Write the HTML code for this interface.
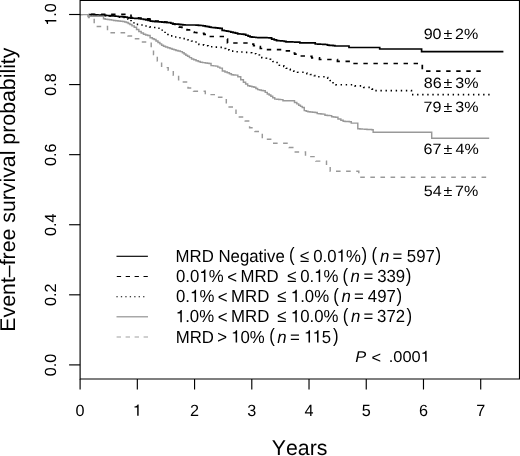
<!DOCTYPE html>
<html><head><meta charset="utf-8"><style>
html,body{margin:0;padding:0;background:#fff;}
body{width:520px;height:456px;overflow:hidden;}
svg{display:block;font-family:"Liberation Sans",sans-serif;font-kerning:none;filter:grayscale(100%);}
text{font-kerning:none;text-rendering:geometricPrecision;}
</style></head><body>
<svg width="520" height="456" viewBox="0 0 520 456">
<rect x="0" y="0" width="520" height="456" fill="#fff"/>
<g fill="none" stroke-linecap="butt" stroke-linejoin="miter">
<path d="M88.50 14.50 H89.54 V14.60 H91.61 V14.70 H93.68 V14.80 H95.75 V14.90 H97.82 V15.00 H99.89 V15.10 H101.96 V15.20 H103.00 H104.16 V15.36 H106.48 V15.52 H108.80 V15.68 H111.12 V15.84 H113.44 V16.00 H114.60 H115.75 V16.24 H118.05 V16.48 H120.35 V16.72 H122.65 V16.96 H124.95 V17.20 H126.10 H127.07 V17.50 H129.00 V17.80 H130.93 V18.10 H131.90 H132.91 V18.23 H134.94 V18.35 H136.96 V18.48 H138.99 V18.60 H140.00 H141.15 V19.00 H143.45 V19.40 H145.75 V19.80 H146.90 H148.05 V20.50 H150.35 V21.20 H151.50 H152.65 V21.38 H154.95 V21.56 H157.25 V21.74 H159.55 V21.92 H161.85 V22.10 H163.00 H164.17 V22.30 H166.50 V22.50 H168.83 V22.70 H170.00 H170.85 V23.25 H172.55 V23.80 H173.40 H174.45 V24.00 H176.55 V24.20 H178.65 V24.40 H180.75 V24.60 H182.85 V24.80 H184.95 V25.00 H186.00 H195.00 H196.15 V25.17 H198.45 V25.33 H200.75 V25.50 H201.90 H203.05 V25.90 H205.35 V26.30 H206.50 H207.47 V26.70 H209.40 V27.10 H211.33 V27.50 H212.30 H213.39 V27.70 H215.56 V27.90 H217.74 V28.10 H219.91 V28.30 H221.00 H222.15 V30.40 H223.30 H224.35 V30.77 H226.45 V31.13 H228.55 V31.50 H229.60 H230.75 V32.08 H233.05 V32.65 H235.35 V33.22 H237.65 V33.80 H238.80 H239.77 V34.00 H241.70 V34.20 H243.63 V34.40 H244.60 H245.75 V35.25 H248.05 V36.10 H249.20 H250.10 V36.80 H251.00 H251.98 V37.03 H253.95 V37.27 H255.92 V37.50 H256.90 H258.01 V37.55 H260.22 V37.60 H262.44 V37.65 H264.66 V37.70 H266.88 V37.75 H269.09 V37.80 H270.20 H271.65 V39.20 H273.10 H274.25 V39.90 H276.55 V40.60 H277.70 H278.65 V40.73 H280.55 V40.87 H282.45 V41.00 H283.40 H284.27 V41.40 H286.02 V41.80 H286.90 H288.05 V41.86 H290.35 V41.92 H292.65 V41.98 H294.95 V42.04 H297.25 V42.10 H298.40 H299.85 V42.90 H301.30 H313.80 H315.25 V44.00 H316.70 H317.93 V44.12 H320.38 V44.25 H322.82 V44.38 H325.27 V44.50 H326.50 H327.40 V45.20 H328.30 H329.25 V45.33 H331.15 V45.47 H333.05 V45.60 H334.00 H334.90 V46.00 H335.80 H349.00 H349.00 V47.50 H379.70 H379.70 V49.00 H421.60 H421.60 V51.70 H503.40" stroke="#000" stroke-width="1.7"/>
<path d="M88.50 14.40 H131.00 H131.00 V17.50 H132.07 V17.66 H134.21 V17.81 H136.36 V17.97 H138.50 V18.13 H140.64 V18.29 H142.79 V18.44 H144.93 V18.60 H146.00 H147.00 V18.90 H149.00 V19.20 H151.00 V19.50 H152.00 H153.50 V21.00 H155.00 H156.07 V21.21 H158.21 V21.43 H160.36 V21.64 H162.50 V21.86 H164.64 V22.07 H166.79 V22.29 H168.93 V22.50 H170.00 H171.00 V23.25 H173.00 V24.00 H174.00 H175.00 V25.35 H177.00 V26.70 H178.00 H179.25 V27.10 H181.75 V27.50 H183.00 H184.50 V29.60 H186.00 H187.00 V29.80 H189.00 V30.00 H190.00 H191.50 V32.20 H193.00 H194.19 V32.48 H196.56 V32.75 H198.94 V33.02 H201.31 V33.30 H202.50 H203.95 V34.40 H205.40 H206.70 V36.50 H208.00 H223.00 H224.12 V37.75 H226.38 V39.00 H227.50 H227.50 V43.00 H251.50 H252.05 V44.20 H252.60 H253.60 V45.60 H254.60 H255.75 V46.15 H258.05 V46.70 H259.20 H260.35 V48.50 H261.50 H262.25 V49.60 H263.00 H280.60 H281.80 V50.80 H283.00 H290.00 H290.82 V51.90 H292.48 V53.00 H293.30 H294.70 V54.20 H296.10 H297.08 V55.10 H299.02 V56.00 H300.00 H305.00 H306.35 V56.15 H309.05 V56.30 H310.40 H311.85 V57.80 H313.30 H319.00 H319.50 V59.50 H320.00 H336.90 H337.45 V61.30 H338.00 H351.00 H351.75 V63.50 H352.50 H422.30 H422.30 V71.10 H481.30" stroke="#000" stroke-width="1.7" stroke-dasharray="4.4 5.645" stroke-dashoffset="7.5"/>
<path d="M88.50 14.80 H89.65 V14.88 H91.95 V14.96 H94.25 V15.04 H96.55 V15.12 H98.85 V15.20 H100.00 H101.07 V15.36 H103.21 V15.51 H105.36 V15.67 H107.50 V15.83 H109.64 V15.99 H111.79 V16.14 H113.93 V16.30 H115.00 H116.00 V16.70 H118.00 V17.10 H120.00 V17.50 H121.00 H126.50 H128.05 V19.20 H129.60 H131.05 V21.50 H132.50 H133.95 V24.40 H135.40 H140.00 H141.00 V24.95 H143.00 V25.50 H144.00 H145.18 V26.00 H147.52 V26.50 H148.70 H149.70 V26.90 H151.70 V27.30 H152.70 H153.85 V27.45 H156.15 V27.60 H157.30 H158.18 V28.30 H159.93 V29.00 H160.80 H162.20 V31.30 H163.60 H165.05 V33.60 H166.50 H167.95 V35.30 H169.40 H170.40 V35.90 H172.40 V36.50 H173.40 H174.43 V36.95 H176.47 V37.40 H177.50 H178.65 V37.80 H180.95 V38.20 H182.10 H183.25 V38.65 H185.55 V39.10 H186.70 H187.70 V39.80 H189.70 V40.50 H190.70 H191.57 V41.00 H193.32 V41.50 H194.20 H195.07 V42.05 H196.82 V42.60 H197.70 H198.95 V44.50 H200.20 H201.35 V44.80 H203.65 V45.10 H204.80 H205.95 V45.70 H208.25 V46.30 H209.40 H210.55 V46.70 H212.85 V47.10 H214.00 H218.70 H219.82 V47.35 H222.07 V47.60 H223.20 H224.02 V48.45 H225.68 V49.30 H226.50 H227.35 V49.90 H229.05 V50.50 H229.90 H231.10 V51.10 H233.50 V51.70 H234.70 H239.50 H240.55 V52.05 H242.65 V52.40 H243.70 H248.50 H249.55 V52.80 H251.65 V53.20 H252.70 H253.72 V53.70 H255.78 V54.20 H256.80 H257.68 V55.00 H259.43 V55.80 H260.30 H261.80 V57.70 H263.30 H264.35 V58.20 H266.45 V58.70 H267.50 H268.50 V59.25 H270.50 V59.80 H271.50 H272.95 V61.50 H274.40 H275.27 V62.55 H277.02 V63.60 H277.90 H279.35 V65.30 H280.80 H281.80 V65.90 H283.80 V66.50 H284.80 H286.25 V68.20 H287.70 H288.55 V69.35 H290.25 V70.50 H291.10 H291.98 V70.90 H293.73 V71.30 H294.60 H295.60 V71.80 H297.60 V72.30 H298.60 H303.80 H304.82 V72.95 H306.88 V73.60 H307.90 H308.75 V74.05 H310.45 V74.50 H311.30 H312.32 V75.05 H314.38 V75.60 H315.40 H316.25 V76.15 H317.95 V76.70 H318.80 H325.10 H325.98 V77.45 H327.73 V78.20 H328.60 H330.15 V80.50 H331.70 H333.05 V82.80 H334.40 H335.75 V84.70 H337.10 H352.10 H353.08 V85.30 H355.02 V85.90 H356.00 H361.10 H361.98 V86.65 H363.73 V87.40 H364.60 H369.40 H370.27 V88.25 H372.02 V89.10 H372.90 H373.85 V90.60 H374.80 H410.50 H411.45 V94.60 H412.40 H489.60" stroke="#000" stroke-width="1.6" stroke-dasharray="1.4 3.68" stroke-dashoffset="3.1"/>
<path d="M80.00 14.60 H88.00 H88.00 V16.30 H103.00 H103.50 V18.70 H104.00 H105.25 V19.20 H106.50 H107.51 V19.50 H109.54 V19.80 H111.56 V20.10 H113.59 V20.40 H114.60 H115.75 V20.67 H118.05 V20.95 H120.35 V21.23 H122.65 V21.50 H123.80 H124.67 V22.00 H126.42 V22.50 H127.30 H128.18 V23.45 H129.93 V24.40 H130.80 H131.95 V25.85 H134.25 V27.30 H135.40 H136.55 V29.40 H138.85 V31.50 H140.00 H141.15 V32.90 H143.45 V34.30 H144.60 H145.62 V34.90 H147.67 V35.50 H148.70 H150.10 V37.80 H151.50 H152.38 V38.65 H154.12 V39.50 H155.00 H156.00 V40.95 H158.00 V42.40 H159.00 H159.88 V43.85 H161.62 V45.30 H162.50 H163.50 V46.15 H165.50 V47.00 H166.50 H167.65 V47.75 H169.95 V48.50 H171.10 H172.07 V49.17 H174.00 V49.83 H175.93 V50.50 H176.90 H178.05 V51.05 H180.35 V51.60 H181.50 H182.38 V52.80 H184.12 V54.00 H185.00 H185.85 V55.15 H187.55 V56.30 H188.40 H189.45 V57.60 H191.55 V58.90 H192.60 H193.75 V59.80 H196.05 V60.70 H197.20 H198.22 V61.45 H200.28 V62.20 H201.30 H202.60 V62.60 H205.20 V63.00 H206.50 H207.35 V63.25 H209.05 V63.50 H209.90 H211.05 V65.60 H212.20 H213.35 V65.85 H215.65 V66.10 H216.80 H217.83 V67.10 H219.88 V68.10 H220.90 H222.35 V71.00 H223.80 H224.95 V71.90 H227.25 V72.80 H228.40 H229.40 V73.80 H231.40 V74.80 H232.40 H233.40 V74.95 H235.40 V75.10 H236.40 H237.85 V76.80 H239.30 H240.75 V79.70 H242.20 H243.40 V82.30 H244.60 H245.62 V84.05 H247.67 V85.80 H248.70 H249.75 V86.30 H251.85 V86.80 H253.95 V87.30 H255.00 H255.88 V88.45 H257.62 V89.60 H258.50 H259.45 V90.00 H261.35 V90.40 H263.25 V90.80 H264.20 H265.23 V92.35 H267.27 V93.90 H268.30 H269.15 V95.05 H270.85 V96.20 H271.70 H272.73 V97.65 H274.77 V99.10 H275.80 H276.75 V99.27 H278.65 V99.43 H280.55 V99.60 H281.50 H282.95 V100.80 H284.40 H293.10 H294.50 V102.50 H295.90 H296.82 V103.85 H298.68 V105.20 H299.60 H300.48 V106.35 H302.23 V107.50 H303.10 H304.25 V110.60 H305.40 H306.25 V111.20 H307.95 V111.80 H308.80 H310.05 V112.03 H312.55 V112.27 H315.05 V112.50 H316.30 H317.20 V113.60 H318.10 H319.05 V113.77 H320.95 V113.93 H322.85 V114.10 H323.80 H324.95 V115.20 H326.10 H327.28 V115.40 H329.62 V115.60 H330.80 H331.65 V116.70 H332.50 H333.50 V117.00 H335.50 V117.30 H336.50 H337.95 V119.00 H339.40 H340.85 V120.20 H342.30 H343.15 V121.30 H344.00 H345.07 V121.43 H347.20 V121.57 H349.33 V121.70 H350.40 H351.25 V123.10 H352.10 H356.90 H357.80 V128.80 H358.70 H359.88 V128.95 H362.25 V129.10 H364.62 V129.25 H366.98 V129.40 H369.35 V129.55 H371.72 V129.70 H372.90 H373.15 V132.30 H373.40 H431.70 H431.70 V138.30 H489.20" stroke="#999" stroke-width="1.45"/>
<path d="M80.00 14.60 H88.50 H88.50 V17.50 H94.20 H94.20 V26.40 H107.50 H107.50 V32.80 H128.00 H128.00 V35.90 H135.50 H135.50 V38.80 H142.50 H142.50 V42.00 H151.20 H151.20 V47.30 H153.50 H153.50 V54.40 H157.30 H157.30 V61.00 H161.60 H161.60 V67.60 H168.20 H168.20 V70.30 H173.30 H173.30 V75.30 H178.60 H178.60 V79.70 H182.50 H182.50 V81.90 H188.00 H188.00 V88.00 H193.50 H193.50 V91.30 H205.30 H205.30 V94.60 H217.80 H217.80 V97.20 H226.30 H226.30 V106.90 H236.00 H236.00 V116.90 H245.20 H245.20 V120.90 H249.60 H249.60 V127.70 H255.00 H255.00 V131.50 H262.30 H262.30 V139.30 H273.00 H273.00 V143.20 H289.00 H289.00 V147.50 H294.00 H294.00 V152.00 H305.50 H305.50 V156.60 H315.80 H315.80 V161.10 H326.50 H326.50 V166.00 H330.20 H330.20 V171.20 H358.80 H358.80 V177.30 H487.50" stroke="#999" stroke-width="1.45" stroke-dasharray="4.6 5.51" stroke-dashoffset="1.91"/>
</g>
<g stroke="#000" stroke-width="1.15" fill="none">
<path d="M80.1 0.5 H519.5 V379 H80.1 Z"/>
<line x1="69.1" y1="364.90" x2="80.1" y2="364.90"/><line x1="69.1" y1="294.82" x2="80.1" y2="294.82"/><line x1="69.1" y1="224.74" x2="80.1" y2="224.74"/><line x1="69.1" y1="154.66" x2="80.1" y2="154.66"/><line x1="69.1" y1="84.58" x2="80.1" y2="84.58"/><line x1="69.1" y1="14.50" x2="80.1" y2="14.50"/>
<line x1="80.10" y1="379" x2="80.10" y2="389.5"/><line x1="137.33" y1="379" x2="137.33" y2="389.5"/><line x1="194.56" y1="379" x2="194.56" y2="389.5"/><line x1="251.79" y1="379" x2="251.79" y2="389.5"/><line x1="309.02" y1="379" x2="309.02" y2="389.5"/><line x1="366.25" y1="379" x2="366.25" y2="389.5"/><line x1="423.48" y1="379" x2="423.48" y2="389.5"/><line x1="480.71" y1="379" x2="480.71" y2="389.5"/>
</g>
<g fill="#000">
<g transform="translate(56.3 364.90) rotate(-90)"><text x="-11.26" y="0.00" font-size="16.20">0.0</text></g><g transform="translate(56.3 294.82) rotate(-90)"><text x="-11.26" y="0.00" font-size="16.20">0.2</text></g><g transform="translate(56.3 224.74) rotate(-90)"><text x="-11.26" y="0.00" font-size="16.20">0.4</text></g><g transform="translate(56.3 154.66) rotate(-90)"><text x="-11.26" y="0.00" font-size="16.20">0.6</text></g><g transform="translate(56.3 84.58) rotate(-90)"><text x="-11.26" y="0.00" font-size="16.20">0.8</text></g><g transform="translate(56.3 14.50) rotate(-90)"><path transform="translate(-11.26 0.00) scale(0.01620 -0.01620)" d="M269 0L359 0L359 703L293 703C277 640 230 587 101 576L101 509L269 509Z"/><text x="-2.25" y="0.00" font-size="16.20">.0</text></g>
<text x="75.60" y="415.80" font-size="16.20">0</text><path transform="translate(132.83 415.80) scale(0.01620 -0.01620)" d="M269 0L359 0L359 703L293 703C277 640 230 587 101 576L101 509L269 509Z"/><text x="190.06" y="415.80" font-size="16.20">2</text><text x="247.29" y="415.80" font-size="16.20">3</text><text x="304.52" y="415.80" font-size="16.20">4</text><text x="361.75" y="415.80" font-size="16.20">5</text><text x="418.98" y="415.80" font-size="16.20">6</text><text x="476.21" y="415.80" font-size="16.20">7</text>
<text x="271.78" y="455.00" font-size="21.30">Years</text>
<g transform="translate(15.3 189.6) rotate(-90)"><text x="-142.07" y="0.00" font-size="21.30">Event–free survival probability</text></g>
<g transform="translate(0 38.80) scale(1 0.930) translate(0 -38.80)"><text x="423.65" y="38.80" font-size="16.10">90</text></g><g transform="translate(0 38.80) scale(1 0.930) translate(0 -38.80)"><text x="443.49" y="38.80" font-size="16.10">±</text></g><g transform="translate(0 38.80) scale(1 0.930) translate(0 -38.80)"><text x="455.09" y="38.80" font-size="16.10">2%</text></g><g transform="translate(0 87.80) scale(1 0.930) translate(0 -87.80)"><text x="423.70" y="87.80" font-size="16.10">86</text></g><g transform="translate(0 87.80) scale(1 0.930) translate(0 -87.80)"><text x="443.49" y="87.80" font-size="16.10">±</text></g><g transform="translate(0 87.80) scale(1 0.930) translate(0 -87.80)"><text x="455.29" y="87.80" font-size="16.10">3%</text></g><g transform="translate(0 111.80) scale(1 0.930) translate(0 -111.80)"><text x="423.57" y="111.80" font-size="16.10">79</text></g><g transform="translate(0 111.80) scale(1 0.930) translate(0 -111.80)"><text x="443.49" y="111.80" font-size="16.10">±</text></g><g transform="translate(0 111.80) scale(1 0.930) translate(0 -111.80)"><text x="455.29" y="111.80" font-size="16.10">3%</text></g><g transform="translate(0 154.20) scale(1 0.930) translate(0 -154.20)"><text x="423.58" y="154.20" font-size="16.10">67</text></g><g transform="translate(0 154.20) scale(1 0.930) translate(0 -154.20)"><text x="443.49" y="154.20" font-size="16.10">±</text></g><g transform="translate(0 154.20) scale(1 0.930) translate(0 -154.20)"><text x="455.53" y="154.20" font-size="16.10">4%</text></g><g transform="translate(0 196.20) scale(1 0.930) translate(0 -196.20)"><text x="423.76" y="196.20" font-size="16.10">54</text></g><g transform="translate(0 196.20) scale(1 0.930) translate(0 -196.20)"><text x="443.49" y="196.20" font-size="16.10">±</text></g><g transform="translate(0 196.20) scale(1 0.930) translate(0 -196.20)"><text x="455.07" y="196.20" font-size="16.10">7%</text></g>
</g>
<g stroke-width="1.15" fill="none">
<line x1="116.5" y1="256.3" x2="147.9" y2="256.3" stroke="#000"/>
<line x1="116.8" y1="276.5" x2="148.0" y2="276.5" stroke="#000" stroke-dasharray="4.3 4.6"/>
<line x1="116.4" y1="296.8" x2="144.4" y2="296.8" stroke="#000" stroke-width="1.05" stroke-dasharray="1.3 3.15"/>
<line x1="116.5" y1="316.75" x2="148.0" y2="316.75" stroke="#a8a8a8" stroke-width="1.5"/>
<line x1="116.6" y1="337" x2="148.0" y2="337" stroke="#c0c0c0" stroke-width="1.4" stroke-dasharray="4.4 4.6"/>
</g>
<g fill="#000">
<g transform="translate(0 261.70) scale(1 1.040) translate(0 -261.70)"><text x="175.62" y="261.70" font-size="16.80">MRD Negative</text></g><g transform="translate(0.00 256.35) scale(1 1.150) translate(0 -257.35)"><text x="289.06" y="261.70" font-size="16.80">(</text></g><g transform="translate(0 261.70) scale(1 1.040) translate(0 -261.70)"><text x="299.98" y="261.70" font-size="16.80">≤</text></g><g transform="translate(0 261.70) scale(1 1.040) translate(0 -261.70)"><text x="313.24" y="261.70" font-size="16.80">0.0</text><path transform="translate(336.60 261.70) scale(0.01680 -0.01680)" d="M269 0L359 0L359 703L293 703C277 640 230 587 101 576L101 509L269 509Z"/><text x="345.94" y="261.70" font-size="16.80">%</text></g><g transform="translate(0.00 256.35) scale(1 1.150) translate(0 -257.35)"><text x="361.40" y="261.70" font-size="16.80">)</text></g><g transform="translate(0.00 256.35) scale(1 1.150) translate(0 -257.35)"><text x="371.56" y="261.70" font-size="16.80">(</text></g><g transform="translate(0 261.70) scale(1 1.040) translate(0 -261.70)"><text x="380.02" y="261.70" font-size="16.80" font-style="italic">n</text></g><g transform="translate(0 261.70) scale(1 1.040) translate(0 -261.70)"><text x="392.38" y="261.70" font-size="16.80">=</text></g><g transform="translate(0 261.70) scale(1 1.040) translate(0 -261.70)"><text x="406.83" y="261.70" font-size="16.80">597</text></g><g transform="translate(0.00 256.35) scale(1 1.150) translate(0 -257.35)"><text x="435.40" y="261.70" font-size="16.80">)</text></g><g transform="translate(0 281.90) scale(1 1.040) translate(0 -281.90)"><text x="176.04" y="281.90" font-size="16.80">0.0</text><path transform="translate(199.40 281.90) scale(0.01680 -0.01680)" d="M269 0L359 0L359 703L293 703C277 640 230 587 101 576L101 509L269 509Z"/><text x="208.74" y="281.90" font-size="16.80">%</text></g><g transform="translate(0 282.80) scale(1 1.060) translate(0 -281.90)"><text x="227.17" y="281.90" font-size="16.80">&lt;</text></g><g transform="translate(0 281.90) scale(1 1.040) translate(0 -281.90)"><text x="240.42" y="281.90" font-size="16.80">MRD</text></g><g transform="translate(0 281.90) scale(1 1.040) translate(0 -281.90)"><text x="287.18" y="281.90" font-size="16.80">≤</text></g><g transform="translate(0 281.90) scale(1 1.040) translate(0 -281.90)"><text x="300.14" y="281.90" font-size="16.80">0.</text><path transform="translate(314.15 281.90) scale(0.01680 -0.01680)" d="M269 0L359 0L359 703L293 703C277 640 230 587 101 576L101 509L269 509Z"/><text x="323.50" y="281.90" font-size="16.80">%</text></g><g transform="translate(0.00 276.55) scale(1 1.150) translate(0 -277.55)"><text x="342.46" y="281.90" font-size="16.80">(</text></g><g transform="translate(0 281.90) scale(1 1.040) translate(0 -281.90)"><text x="350.62" y="281.90" font-size="16.80" font-style="italic">n</text></g><g transform="translate(0 281.90) scale(1 1.040) translate(0 -281.90)"><text x="363.38" y="281.90" font-size="16.80">=</text></g><g transform="translate(0 281.90) scale(1 1.040) translate(0 -281.90)"><text x="377.16" y="281.90" font-size="16.80">339</text></g><g transform="translate(0.00 276.55) scale(1 1.150) translate(0 -277.55)"><text x="405.70" y="281.90" font-size="16.80">)</text></g><g transform="translate(0 302.10) scale(1 1.040) translate(0 -302.10)"><text x="176.04" y="302.10" font-size="16.80">0.</text><path transform="translate(190.05 302.10) scale(0.01680 -0.01680)" d="M269 0L359 0L359 703L293 703C277 640 230 587 101 576L101 509L269 509Z"/><text x="199.40" y="302.10" font-size="16.80">%</text></g><g transform="translate(0 303.00) scale(1 1.060) translate(0 -302.10)"><text x="217.87" y="302.10" font-size="16.80">&lt;</text></g><g transform="translate(0 302.10) scale(1 1.040) translate(0 -302.10)"><text x="231.12" y="302.10" font-size="16.80">MRD</text></g><g transform="translate(0 302.10) scale(1 1.040) translate(0 -302.10)"><text x="277.28" y="302.10" font-size="16.80">≤</text></g><g transform="translate(0 302.10) scale(1 1.040) translate(0 -302.10)"><path transform="translate(290.80 302.10) scale(0.01680 -0.01680)" d="M269 0L359 0L359 703L293 703C277 640 230 587 101 576L101 509L269 509Z"/><text x="300.15" y="302.10" font-size="16.80">.0%</text></g><g transform="translate(0.00 296.75) scale(1 1.150) translate(0 -297.75)"><text x="333.26" y="302.10" font-size="16.80">(</text></g><g transform="translate(0 302.10) scale(1 1.040) translate(0 -302.10)"><text x="341.52" y="302.10" font-size="16.80" font-style="italic">n</text></g><g transform="translate(0 302.10) scale(1 1.040) translate(0 -302.10)"><text x="353.98" y="302.10" font-size="16.80">=</text></g><g transform="translate(0 302.10) scale(1 1.040) translate(0 -302.10)"><text x="367.81" y="302.10" font-size="16.80">497</text></g><g transform="translate(0.00 296.75) scale(1 1.150) translate(0 -297.75)"><text x="396.60" y="302.10" font-size="16.80">)</text></g><g transform="translate(0 322.30) scale(1 1.040) translate(0 -322.30)"><path transform="translate(175.80 322.30) scale(0.01680 -0.01680)" d="M269 0L359 0L359 703L293 703C277 640 230 587 101 576L101 509L269 509Z"/><text x="185.15" y="322.30" font-size="16.80">.0%</text></g><g transform="translate(0 323.20) scale(1 1.060) translate(0 -322.30)"><text x="217.87" y="322.30" font-size="16.80">&lt;</text></g><g transform="translate(0 322.30) scale(1 1.040) translate(0 -322.30)"><text x="231.12" y="322.30" font-size="16.80">MRD</text></g><g transform="translate(0 322.30) scale(1 1.040) translate(0 -322.30)"><text x="277.28" y="322.30" font-size="16.80">≤</text></g><g transform="translate(0 322.30) scale(1 1.040) translate(0 -322.30)"><path transform="translate(290.80 322.30) scale(0.01680 -0.01680)" d="M269 0L359 0L359 703L293 703C277 640 230 587 101 576L101 509L269 509Z"/><text x="300.15" y="322.30" font-size="16.80">0.0%</text></g><g transform="translate(0.00 316.95) scale(1 1.150) translate(0 -317.95)"><text x="342.76" y="322.30" font-size="16.80">(</text></g><g transform="translate(0 322.30) scale(1 1.040) translate(0 -322.30)"><text x="351.02" y="322.30" font-size="16.80" font-style="italic">n</text></g><g transform="translate(0 322.30) scale(1 1.040) translate(0 -322.30)"><text x="363.38" y="322.30" font-size="16.80">=</text></g><g transform="translate(0 322.30) scale(1 1.040) translate(0 -322.30)"><text x="377.06" y="322.30" font-size="16.80">372</text></g><g transform="translate(0.00 316.95) scale(1 1.150) translate(0 -317.95)"><text x="406.40" y="322.30" font-size="16.80">)</text></g><g transform="translate(0 342.50) scale(1 1.040) translate(0 -342.50)"><text x="175.72" y="342.50" font-size="16.80">MRD</text></g><g transform="translate(0 343.40) scale(1 1.060) translate(0 -342.50)"><text x="217.37" y="342.50" font-size="16.80">&gt;</text></g><g transform="translate(0 342.50) scale(1 1.040) translate(0 -342.50)"><path transform="translate(231.10 342.50) scale(0.01680 -0.01680)" d="M269 0L359 0L359 703L293 703C277 640 230 587 101 576L101 509L269 509Z"/><text x="240.45" y="342.50" font-size="16.80">0%</text></g><g transform="translate(0.00 337.15) scale(1 1.150) translate(0 -338.15)"><text x="269.26" y="342.50" font-size="16.80">(</text></g><g transform="translate(0 342.50) scale(1 1.040) translate(0 -342.50)"><text x="277.32" y="342.50" font-size="16.80" font-style="italic">n</text></g><g transform="translate(0 342.50) scale(1 1.040) translate(0 -342.50)"><text x="289.88" y="342.50" font-size="16.80">=</text></g><g transform="translate(0 342.50) scale(1 1.040) translate(0 -342.50)"><path transform="translate(304.00 342.50) scale(0.01680 -0.01680)" d="M269 0L359 0L359 703L293 703C277 640 230 587 101 576L101 509L269 509Z"/><path transform="translate(312.51 342.50) scale(0.01680 -0.01680)" d="M269 0L359 0L359 703L293 703C277 640 230 587 101 576L101 509L269 509Z"/><text x="321.85" y="342.50" font-size="16.80">5</text></g><g transform="translate(0.00 337.15) scale(1 1.150) translate(0 -338.15)"><text x="332.90" y="342.50" font-size="16.80">)</text></g><g transform="translate(0 361.80) scale(1 0.955) translate(0 -361.80)"><text x="355.30" y="361.80" font-size="16.40" font-style="italic">P</text></g><g transform="translate(0 362.70) scale(1 1.000) translate(0 -361.80)"><text x="371.39" y="361.80" font-size="16.40">&lt;</text></g><g transform="translate(0 361.80) scale(1 0.955) translate(0 -361.80)"><text x="388.80" y="361.80" font-size="16.40">.000</text><path transform="translate(420.72 361.80) scale(0.01640 -0.01640)" d="M269 0L359 0L359 703L293 703C277 640 230 587 101 576L101 509L269 509Z"/></g>
</g>
</svg>
</body></html>
